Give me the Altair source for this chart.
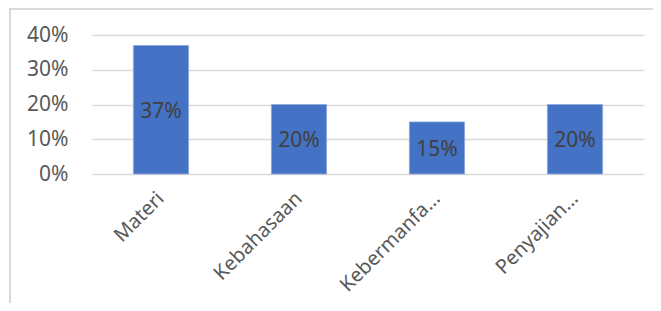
import altair as alt
import pandas as pd

categories = ["Materi", "Kebahasaan", "Kebermanfa…", "Penyajian…"]
values = [0.37, 0.20, 0.15, 0.20]
value_labels = ["37%", "20%", "15%", "20%"]

df = pd.DataFrame({"cat": categories, "val": values, "lbl": value_labels})

FONT = "Noto Sans"

x_scale = alt.Scale(paddingInner=0.6, paddingOuter=0.3)
x_axis = alt.Axis(labelAngle=-45, labelAlign="right", labelBaseline="middle",
                  labelFontSize=20, labelColor="#595959", labelFont=FONT,
                  labelPadding=21, ticks=False, domain=False, grid=False,
                  labelOverlap=False)
y_scale = alt.Scale(domain=[0, 0.4], nice=False)
y_axis = alt.Axis(values=[0, 0.1, 0.2, 0.3, 0.4], format=".0%",
                  labelFontSize=21, labelColor="#595959", labelFont=FONT,
                  labelPadding=24, ticks=False, domain=False, labelOverlap=False,
                  grid=True, gridColor="#d9d9d9", gridWidth=1.3)

bars = alt.Chart(df).mark_bar(color="#4472c4", stroke="#8faadc", strokeWidth=0.8).encode(
    x=alt.X("cat:N", sort=categories, title=None, scale=x_scale, axis=x_axis),
    y=alt.Y("val:Q", title=None, scale=y_scale, axis=y_axis))

text = alt.Chart(df).transform_calculate(mid="datum.val / 2").mark_text(
    fontSize=21, color="#404040", font=FONT, baseline="middle", dy=2
).encode(
    x=alt.X("cat:N", sort=categories, title=None, scale=x_scale, axis=x_axis),
    y=alt.Y("mid:Q", title=None, scale=y_scale, axis=y_axis),
    text="lbl:N")

frame_left = alt.Chart(df).mark_rule(color="#d9d9d9", strokeWidth=1.5).encode(
    x=alt.value(-82), y=alt.value(-27), y2=alt.value(270))
frame_top = alt.Chart(df).mark_rule(color="#d9d9d9", strokeWidth=1.5).encode(
    x=alt.value(-82), x2=alt.value(570), y=alt.value(-26))

chart = alt.layer(frame_left, frame_top, bars, text).properties(
    width=552, height=139,
    background="white",
    autosize=alt.AutoSizeParams(type="none"),
    padding={"left": 84, "top": 27, "right": 9, "bottom": 129},
).configure_view(strokeWidth=0, stroke="transparent")

chart.save("out.html", embed_options={"renderer": "svg", "actions": False})
